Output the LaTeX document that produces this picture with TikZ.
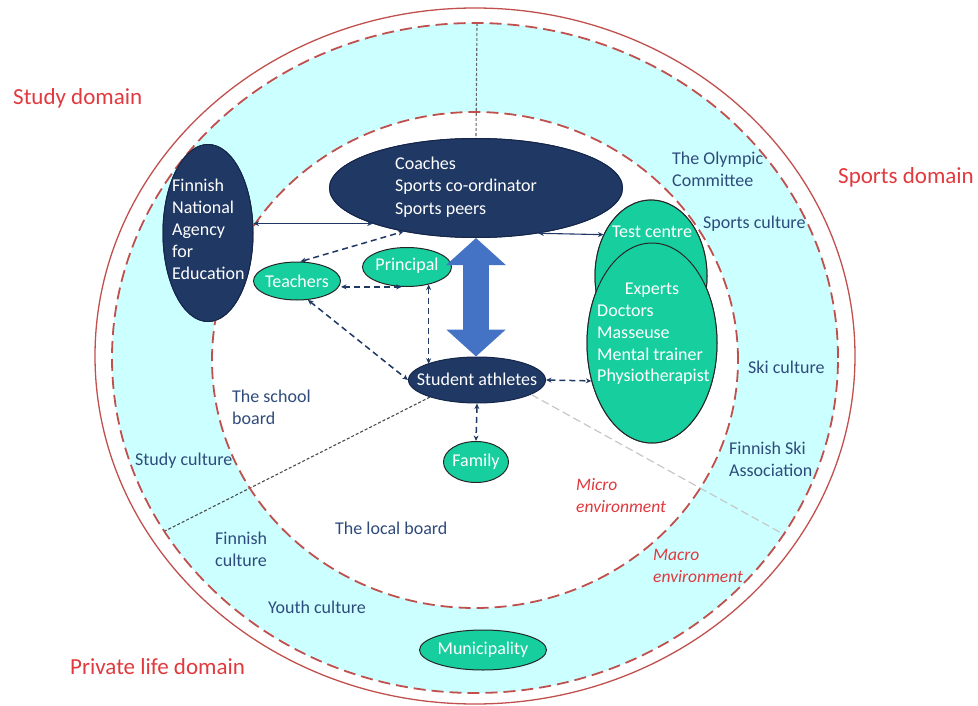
\documentclass[tikz,border=0pt]{standalone}
\usepackage{fontspec}
\setmainfont{Carlito}
\usetikzlibrary{arrows.meta,shapes.geometric}
\definecolor{navyfill}{HTML}{203864}
\definecolor{navyline}{HTML}{15264A}
\definecolor{greenfill}{HTML}{17CF9E}
\definecolor{cyanfill}{HTML}{CCFFFF}
\definecolor{ringred}{HTML}{C0504D}
\definecolor{domred}{HTML}{E0393E}
\definecolor{labblue}{HTML}{2F4B7C}
\definecolor{bigblue}{HTML}{4472C4}
\definecolor{arrnavy}{HTML}{1F3864}
\tikzset{
  navyell/.style={ellipse, draw=navyline, fill=navyfill, inner sep=0pt, line width=1pt},
  greenell/.style={ellipse, draw=black!85, fill=greenfill, inner sep=0pt, line width=1pt},
  wtxt/.style={text=white, font=\fontsize{18}{22}\selectfont, inner sep=0pt, align=left},
  lab/.style={text=labblue, font=\fontsize{18}{22}\selectfont, align=left, inner sep=0pt, anchor=west},
  dom/.style={text=domred, font=\fontsize{23}{27}\selectfont, inner sep=0pt, anchor=west},
  envlab/.style={text=domred, font=\itshape\fontsize{17.5}{22}\selectfont, align=left, inner sep=0pt, anchor=west},
  conn/.style={arrnavy, line width=1.1pt, {Stealth[length=5.5pt,width=5pt]}-{Stealth[length=5.5pt,width=5pt]}},
  dconn/.style={conn, dash pattern=on 6pt off 4pt, line width=1.5pt},
  ring/.style={ringred, line width=1.3pt},
  dring/.style={ringred, line width=1.8pt, dash pattern=on 12pt off 6pt}
}
\begin{document}
\begin{tikzpicture}[x=1pt,y=-1pt]
\useasboundingbox (0,0) rectangle (978,706);
% rings
\fill[cyanfill] (475,358) ellipse [x radius=363pt, y radius=335pt];
\fill[white] (475,360) ellipse [x radius=263pt, y radius=248pt];
\coordinate (topc) at (477,23);
\coordinate (leftc) at (163,532);
\coordinate (rightc) at (785,535);
% nodes
\node[navyell, minimum width=293pt, minimum height=99pt] (coaches) at (476,188) {};
\node[navyell, minimum width=90pt, minimum height=177pt] (fnae) at (208,233) {};
\node[greenell, minimum width=87pt, minimum height=38pt] (teachers) at (297,281) {};
\node[greenell, minimum width=89pt, minimum height=39pt] (principal) at (407,267) {};
\node[navyell, minimum width=137pt, minimum height=46pt] (student) at (477,380) {};
\node[greenell, minimum width=65pt, minimum height=41pt] (family) at (476,462) {};
\node[greenell, minimum width=127pt, minimum height=40pt] (municipality) at (483,650) {};
\node[greenell, minimum width=112pt, minimum height=152pt] (test) at (651,276) {};
\node[greenell, minimum width=130pt, minimum height=200pt] (experts) at (652,343) {};
% radial lines
\draw[black!60, dash pattern=on 3pt off 2pt, line width=1.1pt] (topc) -- (coaches.north);
\draw[black!70, dash pattern=on 3pt off 2pt, line width=1.1pt] (student.200) -- (leftc);
\draw[black!22, dash pattern=on 8pt off 4pt, line width=1.2pt] (student.-15) -- (rightc);
% ring borders
\draw[ring] (475,356) ellipse [x radius=380pt, y radius=348pt];
\draw[dring] (475,358) ellipse [x radius=363pt, y radius=335pt];
\draw[dring] (475,360) ellipse [x radius=263pt, y radius=248pt];
% redraw nodes over rings
\node[navyell, minimum width=293pt, minimum height=99pt] at (coaches) {};
\node[navyell, minimum width=90pt, minimum height=177pt] at (fnae) {};
\node[greenell, minimum width=112pt, minimum height=152pt] at (test) {};
\node[greenell, minimum width=130pt, minimum height=200pt] at (experts) {};
% node texts
\node[wtxt, anchor=west, font=\fontsize{18}{22.5}\selectfont] (coachestxt) at (395,187) {Coaches\\Sports co-ordinator\\Sports peers};
\node[wtxt, anchor=west] (fnaetxt) at (172,229) {Finnish\\National\\Agency\\for\\Education};
\node[wtxt] (teacherstxt) at (297,281) {Teachers};
\node[wtxt] (principaltxt) at (407,266) {Principal};
\node[wtxt] (studenttxt) at (477,379) {Student athletes};
\node[wtxt] (familytxt) at (476,462) {Family};
\node[wtxt] (municipalitytxt) at (483,650) {Municipality};
\node[wtxt] (testtxt) at (652,232) {Test centre};
\node[wtxt] (expertstxt) at (652,290) {Experts};
\node[wtxt, anchor=west, font=\fontsize{18}{21.7}\selectfont] (expertlist) at (597,345) {Doctors\\Masseuse\\Mental trainer\\Physiotherapist};
% connectors
\draw[bigblue, line width=26pt, {Triangle[length=27pt,width=58pt]}-{Triangle[length=27pt,width=58pt]}] (coaches.south) -- (coaches.south |- student.north);
\draw[conn] (fnae.east |- coaches.199) -- (coaches.199);
\draw[conn] (coaches.324) -- (test.139);
\draw[dconn] (teachers.80) -- (coaches.211);
\draw[dconn] (teachers.east |- principal.255) -- (principal.255);
\draw[dconn] (principal.-39) -- (principal.-39 |- student.162);
\draw[dconn] (teachers.-60) -- (student.west);
\draw[dconn] (student.east) -- (experts.212);
\draw[dconn] (student.south) -- (family.north);
% labels
\node[lab] (olympic) at (672,169.5) {The Olympic\\Committee};
\node[lab] (sportscult) at (703,224) {Sports culture};
\node[lab] (skicult) at (748,367) {Ski culture};
\node[lab] (skiassoc) at (729,459) {Finnish Ski\\Association};
\node[envlab] (micro) at (576,496) {Micro\\environment};
\node[envlab] (macro) at (653,565.5) {Macro\\environment};
\node[lab] (school) at (232,407) {The school\\board};
\node[lab] (studycult) at (135,461) {Study culture};
\node[lab] (fincult) at (215,549.5) {Finnish\\culture};
\node[lab] (local) at (335,528) {The local board};
\node[lab] (youth) at (268,607) {Youth culture};
\node[dom] (studydom) at (13,98) {Study domain};
\node[dom] (sportsdom) at (838,177) {Sports domain};
\node[dom] (privdom) at (70,667) {Private life domain};
\end{tikzpicture}
\end{document}
